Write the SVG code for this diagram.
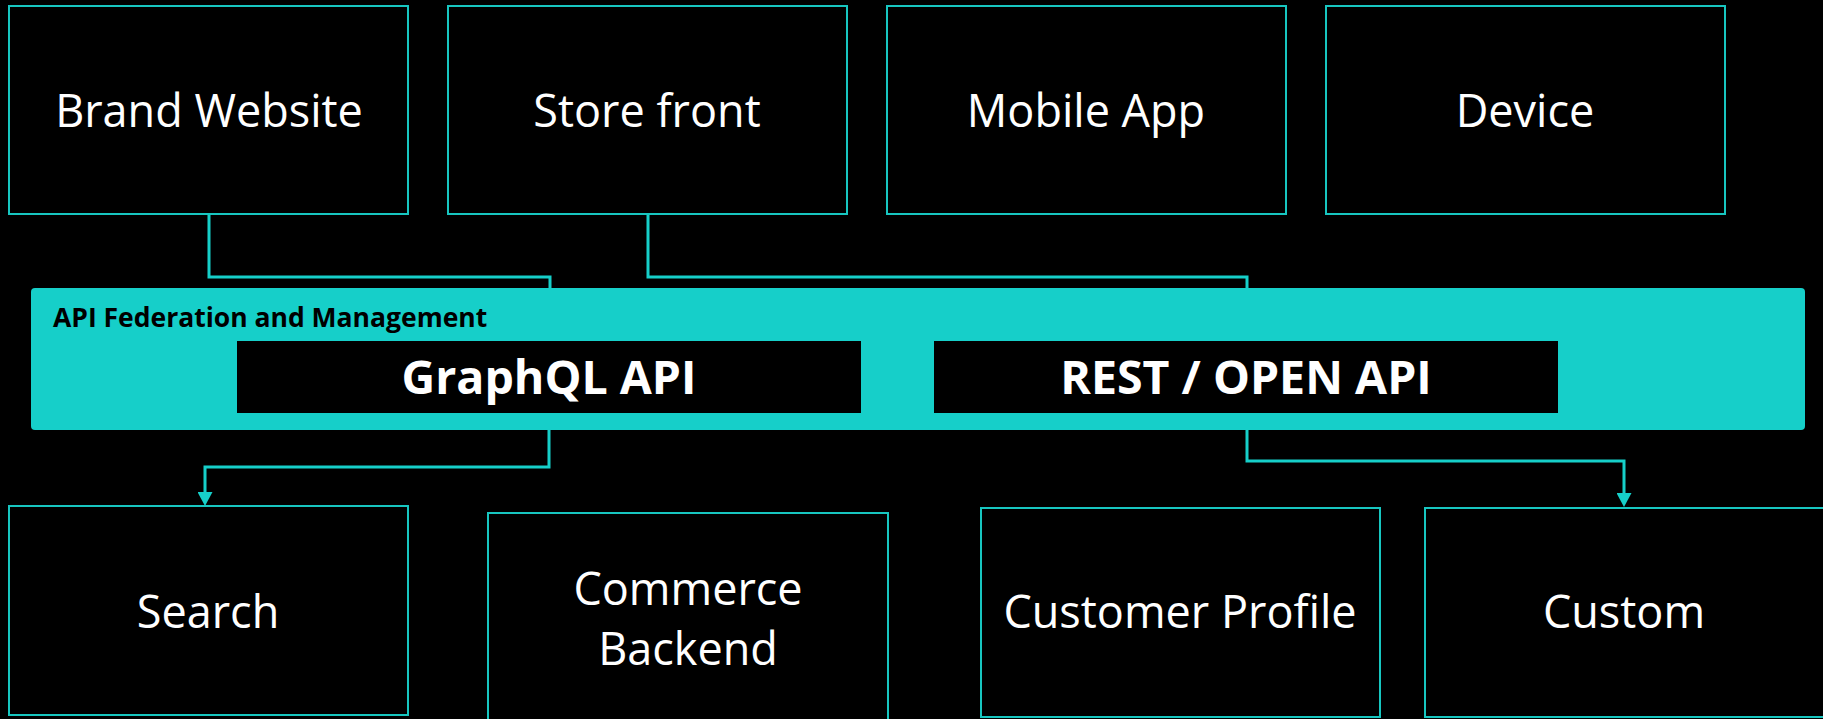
<svg xmlns="http://www.w3.org/2000/svg" width="1823" height="719" viewBox="0 0 1823 719">
  <style>
    .box { fill: #000000; stroke: #17C6C0; stroke-width: 2; }
    .lbl { font-family: "Open Sans", "Noto Sans", sans-serif; font-size: 45px; fill: #FFFFFF; text-anchor: middle; }
    .api { fill: #000000; }
    .apilbl { font-family: "Open Sans", "Noto Sans", sans-serif; font-size: 46.5px; font-weight: bold; fill: #FFFFFF; text-anchor: middle; }
    .panel { fill: #16CFC9; }
    .panellbl { font-family: "Open Sans", "Noto Sans", sans-serif; font-size: 26.5px; font-weight: bold; fill: #000000; }
    .conn { fill: none; stroke: #16CFC9; stroke-width: 3; }
  </style>
  <defs>
    <marker id="arrow" markerUnits="userSpaceOnUse" markerWidth="15" markerHeight="15" viewBox="0 0 15 15" refX="4" refY="7.5" orient="auto">
      <path d="M0,0 L14,7.5 L0,15 z" fill="#16CFC9"/>
    </marker>
  </defs>
  <rect x="0" y="0" width="1823" height="719" fill="#000000"/>

  <g id="panel">
    <rect class="panel" x="31" y="288" width="1774" height="142" rx="4"/>
    <text class="panellbl" x="53" y="327">API Federation and Management</text>
  </g>
  <g id="graphql">
    <rect class="api" x="237" y="341" width="624" height="72"/>
    <text class="apilbl" x="549" y="394">GraphQL API</text>
  </g>
  <g id="rest">
    <rect class="api" x="934" y="341" width="624" height="72"/>
    <text class="apilbl" x="1246" y="394">REST / OPEN API</text>
  </g>

  <g id="connectors">
    <path class="conn" d="M209,214 V277 H550 V288"/>
    <path class="conn" d="M648,214 V277 H1247 V288"/>
    <path class="conn" d="M549,430 V467 H205 V496" marker-end="url(#arrow)"/>
    <path class="conn" d="M1247,430 V461 H1624 V497" marker-end="url(#arrow)"/>
  </g>

  <g id="brand-website">
    <rect class="box" x="9" y="6" width="399" height="208"/>
    <text class="lbl" x="209" y="127">Brand Website</text>
  </g>
  <g id="store-front">
    <rect class="box" x="448" y="6" width="399" height="208"/>
    <text class="lbl" x="647" y="127">Store front</text>
  </g>
  <g id="mobile-app">
    <rect class="box" x="887" y="6" width="399" height="208"/>
    <text class="lbl" x="1086" y="127">Mobile App</text>
  </g>
  <g id="device">
    <rect class="box" x="1326" y="6" width="399" height="208"/>
    <text class="lbl" x="1525" y="127">Device</text>
  </g>

  <g id="search">
    <rect class="box" x="9" y="506" width="399" height="209"/>
    <text class="lbl" x="208" y="628">Search</text>
  </g>
  <g id="commerce-backend">
    <rect class="box" x="488" y="513" width="400" height="215"/>
    <text class="lbl" x="688" y="605">Commerce</text>
    <text class="lbl" x="688" y="665">Backend</text>
  </g>
  <g id="customer-profile">
    <rect class="box" x="981" y="508" width="399" height="209"/>
    <text class="lbl" x="1180" y="628">Customer Profile</text>
  </g>
  <g id="custom">
    <rect class="box" x="1425" y="508" width="400" height="209"/>
    <text class="lbl" x="1624" y="628">Custom</text>
  </g>
</svg>
